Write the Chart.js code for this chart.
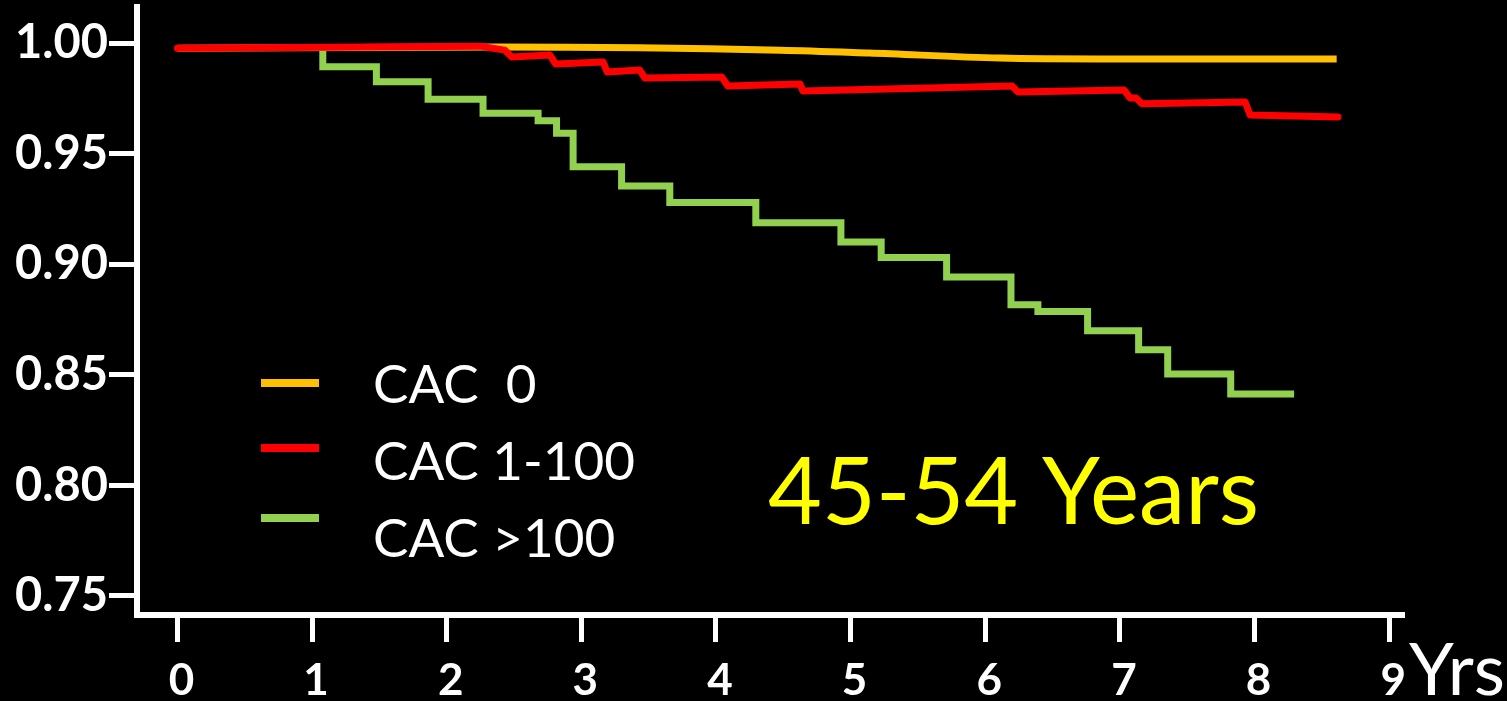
<!DOCTYPE html>
<html>
<head>
<meta charset="utf-8">
<title>CAC survival 45-54 years</title>
<script src="https://cdn.jsdelivr.net/npm/chart.js@4/dist/chart.umd.min.js"></script>
<style>
  html, body { margin: 0; padding: 0; background: #000; }
  #wrap { width: 1507px; height: 701px; }
</style>
</head>
<body>
<div id="wrap"><canvas id="myChart" width="1507" height="701"></canvas></div>
<script>
// series names (legend order)
const seriesNames = ['CAC  0', 'CAC 1-100', 'CAC >100'];
const seriesColors = ['#FFC000', '#FF0000', '#92D050'];

// CAC 0
const cac0Years = [0, 2.39, 4.48, 5.14, 6.11, 6.85, 8.61];
const cac0Surv  = [0.9977, 0.9982, 0.9968, 0.9955, 0.9932, 0.9928, 0.9928];

// CAC 1-100
const cac1Years = [0, 2.245, 2.432, 2.484, 2.766, 2.810, 3.162, 3.192, 3.434, 3.472,
                   4.044, 4.088, 4.624, 4.646, 6.199, 6.243, 7.030, 7.075, 7.120, 7.165,
                   7.930, 7.967, 8.620];
const cac1Surv  = [0.9977, 0.9986, 0.9968, 0.9937, 0.9946, 0.9905, 0.9914, 0.9869, 0.9878, 0.9842,
                   0.9846, 0.9806, 0.9815, 0.9783, 0.9806, 0.9779, 0.9788, 0.9752, 0.9752, 0.9725,
                   0.9734, 0.9675, 0.9666];

// CAC >100 (step points: year where survival drops, new value)
const cac2Years = [1.08, 1.08, 1.478, 1.862, 2.270, 2.679, 2.816, 2.939, 3.299, 3.657,
                   4.296, 4.928, 5.227, 5.713, 6.191, 6.391, 6.760, 7.139, 7.355, 7.823, 8.294];
const cac2Surv  = [0.9977, 0.9893, 0.9825, 0.9746, 0.9683, 0.9649, 0.9592, 0.9441, 0.9354, 0.9279,
                   0.9188, 0.9100, 0.9030, 0.8942, 0.8817, 0.8786, 0.8699, 0.8613, 0.8504, 0.8413, 0.8413];

const xTicks = [0, 1, 2, 3, 4, 5, 6, 7, 8, 9];
const yTicks = [0.75, 0.80, 0.85, 0.90, 0.95, 1.00];

const ageLabel = '45-54 Years';
const xUnit = 'Yrs';

function toPoints(xs, ys) {
  return xs.map((x, i) => ({ x: x, y: ys[i] }));
}

// legend, age group and unit label drawn on top of the chart
const overlayText = {
  id: 'overlayText',
  afterDraw(chart) {
    const ctx = chart.ctx;
    ctx.save();
    // legend
    const lineY = [383, 448, 518];
    const textY = [403, 480, 557];
    ctx.lineCap = 'butt';
    ctx.lineWidth = 8;
    ctx.font = '53px Lato';
    ctx.textAlign = 'left';
    ctx.textBaseline = 'alphabetic';
    seriesNames.forEach((name, i) => {
      ctx.strokeStyle = seriesColors[i];
      ctx.beginPath();
      ctx.moveTo(261, lineY[i]);
      ctx.lineTo(319, lineY[i]);
      ctx.stroke();
      ctx.fillStyle = '#FFFFFF';
      ctx.fillText(name, 373, textY[i]);
    });
    // age group
    ctx.fillStyle = '#FFFF00';
    ctx.font = '93px Lato';
    ctx.fillText(ageLabel, 768, 524);
    // x unit
    ctx.fillStyle = '#FFFFFF';
    ctx.font = '72px Lato';
    ctx.fillText(xUnit, 1409, 695);
    ctx.restore();
  }
};

function draw() {
  const data = {
    datasets: [
      {
        label: seriesNames[0],
        data: toPoints(cac0Years, cac0Surv),
        borderColor: seriesColors[0],
        borderWidth: 7,
        cubicInterpolationMode: 'monotone',
        pointRadius: 0,
        order: 2
      },
      {
        label: seriesNames[1],
        data: toPoints(cac1Years, cac1Surv),
        borderColor: seriesColors[1],
        borderWidth: 7,
        tension: 0,
        pointRadius: 0,
        borderJoinStyle: 'round',
        borderCapStyle: 'round',
        order: 0
      },
      {
        label: seriesNames[2],
        data: toPoints(cac2Years, cac2Surv),
        borderColor: seriesColors[2],
        borderWidth: 7,
        stepped: 'before',
        pointRadius: 0,
        order: 1
      }
    ]
  };

  const config = {
    type: 'line',
    data,
    options: {
      responsive: false,
      animation: false,
      devicePixelRatio: 1,
      layout: { padding: { top: 7, right: 103, left: 0, bottom: 0 } },
      plugins: {
        legend: { display: false },
        tooltip: { enabled: false }
      },
      scales: {
        x: {
          type: 'linear',
          min: -0.30,
          max: 9.11,
          afterBuildTicks: scale => { scale.ticks = xTicks.map(v => ({ value: v })); },
          afterFit: scale => {
            scale.height = 86;
            scale.paddingLeft = 0;
            scale.paddingRight = 0;
          },
          border: { color: '#FFFFFF', width: 6 },
          grid: {
            drawOnChartArea: false,
            color: '#FFFFFF',
            tickLength: 27,
            tickWidth: 5
          },
          ticks: {
            color: '#FFFFFF',
            font: { family: 'Lato', weight: 'bold', size: 44 },
            padding: 12,
            labelOffset: 4,
            maxRotation: 0,
            autoSkip: false
          }
        },
        y: {
          type: 'linear',
          min: 0.7414,
          max: 1.0163,
          afterBuildTicks: scale => { scale.ticks = yTicks.map(v => ({ value: v })); },
          afterFit: scale => {
            scale.width = 137;
            scale.paddingTop = 0;
            scale.paddingBottom = 0;
          },
          border: { color: '#FFFFFF', width: 6 },
          grid: {
            drawOnChartArea: false,
            color: '#FFFFFF',
            tickLength: 28,
            tickWidth: 5
          },
          ticks: {
            color: '#FFFFFF',
            font: { family: 'Lato', weight: 'bold', size: 47 },
            padding: 1,
            autoSkip: false,
            callback: v => Number(v).toFixed(2)
          }
        }
      }
    },
    plugins: [overlayText]
  };

  new Chart(document.getElementById('myChart'), config);
}

Promise.all([
  document.fonts.load('bold 47px Lato'),
  document.fonts.load('53px Lato')
]).then(draw, draw);
</script>
</body>
</html>
